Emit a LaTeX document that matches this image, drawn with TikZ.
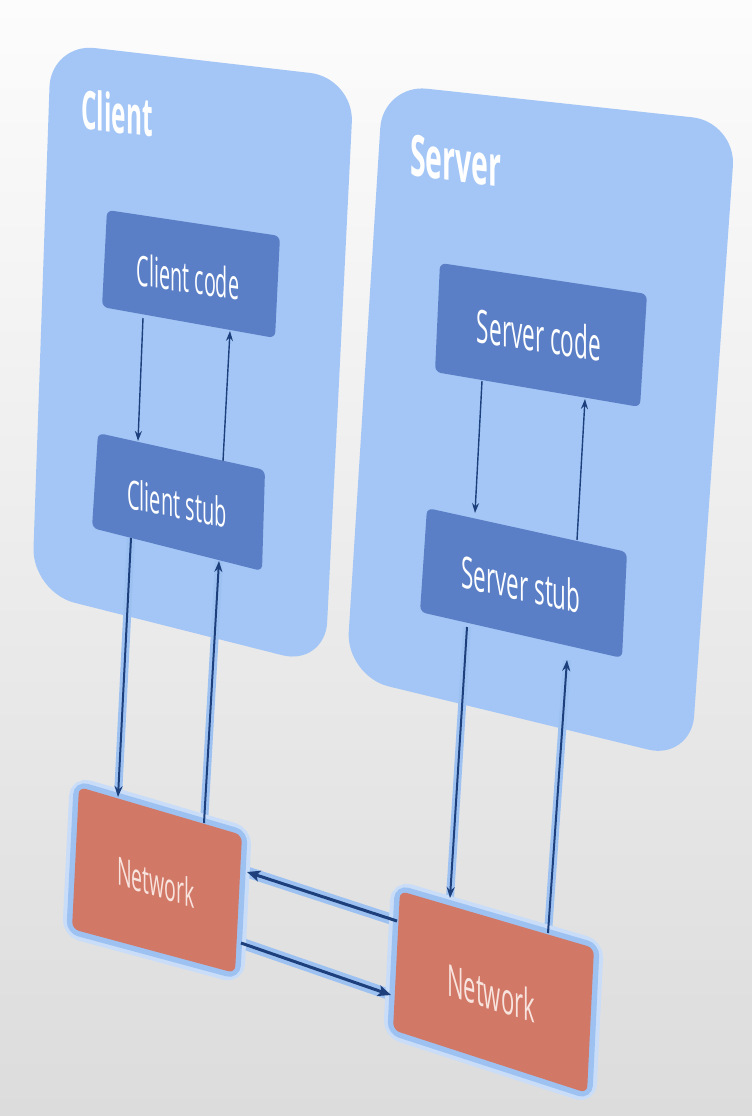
\documentclass[tikz,border=0pt]{standalone}
\usepackage{fontspec}
\setmainfont{Open Sans}
\usetikzlibrary{arrows.meta}
\definecolor{bgtop}{HTML}{FCFCFC}
\definecolor{bgbot}{HTML}{DCDCDC}
\definecolor{pane}{HTML}{A3C6F6}
\definecolor{innerblue}{HTML}{5B7FC6}
\definecolor{netred}{HTML}{D27866}
\definecolor{glow}{HTML}{9DC2F2}
\definecolor{navy}{HTML}{1D3F7C}
\definecolor{nettext}{HTML}{F8E4DE}
\begin{document}
\begin{tikzpicture}[x=1pt,y=-1pt,
  panebox/.style={fill=pane, rounded corners=44pt},
  innerbox/.style={fill=innerblue, rounded corners=6pt},
  netbox/.style={fill=netred, rounded corners=7pt},
  netglow/.style={draw=glow, line width=11pt, rounded corners=8pt},
  netglowsoft/.style={draw=glow!55, line width=19pt, rounded corners=10pt},
  lbl/.style={text=white, inner sep=0pt},
  thinarrow/.style={draw=navy, line width=1.4pt, -{Stealth[length=10pt,width=7pt]}},
  midarrow/.style={draw=navy, line width=2pt, -{Stealth[length=11pt,width=8pt]}},
  thickarrow/.style={draw=navy, line width=3pt, -{Stealth[length=13pt,width=11pt,inset=3pt]}},
  arrowglow/.style={draw=glow, line cap=butt},
]
\useasboundingbox (0,0) rectangle (752,1116);
\shade[top color=bgtop, bottom color=bgbot] (0,0) rectangle (752,1116);

% ---------- corner coordinates ----------
\coordinate (cpTL) at (51,43);   \coordinate (cpTR) at (354,78);
\coordinate (cpBR) at (325,666); \coordinate (cpBL) at (32,592);
\coordinate (spTL) at (383,84);  \coordinate (spTR) at (736,122);
\coordinate (spBR) at (691,760); \coordinate (spBL) at (346,676);

\coordinate (ccTL) at (107,210); \coordinate (ccTR) at (280,236);
\coordinate (ccBR) at (275,338); \coordinate (ccBL) at (102,307);
\coordinate (csTL) at (98,433);  \coordinate (csTR) at (265,470);
\coordinate (csBR) at (262,571); \coordinate (csBL) at (92,528);
\coordinate (scTL) at (440,263); \coordinate (scTR) at (647,294);
\coordinate (scBR) at (640,407); \coordinate (scBL) at (435,372);
\coordinate (ssTL) at (427,508); \coordinate (ssTR) at (627,552);
\coordinate (ssBR) at (622,658); \coordinate (ssBL) at (420,612);
\coordinate (nlTL) at (79,787);  \coordinate (nlTR) at (242,835);
\coordinate (nlBR) at (235,973); \coordinate (nlBL) at (72,929);
\coordinate (nrTL) at (400,891); \coordinate (nrTR) at (594,948);
\coordinate (nrBR) at (587,1093);\coordinate (nrBL) at (393,1030);

% ---------- containers ----------
\path[panebox] (cpTL) -- (cpTR) -- (cpBR) -- (cpBL) -- cycle;
\path[panebox] (spTL) -- (spTR) -- (spBR) -- (spBL) -- cycle;

% ---------- arrow end points ----------
\coordinate (a1s) at (143,318); \coordinate (a1e) at (138,441);
\coordinate (a2s) at (223,461); \coordinate (a2e) at (230,331);
\coordinate (b1s) at (482,381); \coordinate (b1e) at (475,513);
\coordinate (b2s) at (577,540); \coordinate (b2e) at (585,399);
\coordinate (a3s) at (131,538); \coordinate (a3e) at (118,797);
\coordinate (a4s) at (204,823); \coordinate (a4e) at (219,561);
\coordinate (b3s) at (467,627); \coordinate (b3e) at (450,898);
\coordinate (b4s) at (548,933); \coordinate (b4e) at (567,660);
\coordinate (h1s) at (397,921); \coordinate (h1e) at (247,872);
\coordinate (h2s) at (241,943); \coordinate (h2e) at (391,995);

% glows under the outer arrows
\path[arrowglow, line width=8pt] (a3s) -- (a3e);
\path[arrowglow, line width=8pt] (a4s) -- (a4e);
\path[arrowglow, line width=8pt] (b3s) -- (b3e);
\path[arrowglow, line width=8pt] (b4s) -- (b4e);
\path[arrowglow, line width=11pt] (h1s) -- (h1e);
\path[arrowglow, line width=11pt] (h2s) -- (h2e);

% ---------- inner boxes ----------
\path[innerbox] (ccTL) -- (ccTR) -- (ccBR) -- (ccBL) -- cycle;
\path[innerbox] (csTL) -- (csTR) -- (csBR) -- (csBL) -- cycle;
\path[innerbox] (scTL) -- (scTR) -- (scBR) -- (scBL) -- cycle;
\path[innerbox] (ssTL) -- (ssTR) -- (ssBR) -- (ssBL) -- cycle;

% ---------- network boxes ----------
\path[netglowsoft] (nlTL) -- (nlTR) -- (nlBR) -- (nlBL) -- cycle;
\path[netglowsoft] (nrTL) -- (nrTR) -- (nrBR) -- (nrBL) -- cycle;
\path[netglow] (nlTL) -- (nlTR) -- (nlBR) -- (nlBL) -- cycle;
\path[netglow] (nrTL) -- (nrTR) -- (nrBR) -- (nrBL) -- cycle;
\path[netbox] (nlTL) -- (nlTR) -- (nlBR) -- (nlBL) -- cycle;
\path[netbox] (nrTL) -- (nrTR) -- (nrBR) -- (nrBL) -- cycle;

% ---------- arrows ----------
\draw[thinarrow] (a1s) -- (a1e);
\draw[thinarrow] (a2s) -- (a2e);
\draw[thinarrow] (b1s) -- (b1e);
\draw[thinarrow] (b2s) -- (b2e);
\draw[midarrow] (a3s) -- (a3e);
\draw[midarrow] (a4s) -- (a4e);
\draw[midarrow] (b3s) -- (b3e);
\draw[midarrow] (b4s) -- (b4e);
\draw[thickarrow] (h1s) -- (h1e);
\draw[thickarrow] (h2s) -- (h2e);

% ---------- labels ----------
\node[lbl, font=\bfseries\fontsize{53}{53}\selectfont, yslant=-0.12, xscale=0.46] (tclient) at (117,113) {Client};
\node[lbl, font=\bfseries\fontsize{57}{57}\selectfont, yslant=-0.125, xscale=0.5] (tserver) at (456,161) {Server};
\node[lbl, font=\fontsize{42}{42}\selectfont, yslant=-0.15, xscale=0.47] (tcc) at (188,277) {Client code};
\node[lbl, font=\fontsize{40}{40}\selectfont, yslant=-0.2, xscale=0.5] (tcs) at (177,503) {Client stub};
\node[lbl, font=\fontsize{46}{46}\selectfont, yslant=-0.155, xscale=0.49] (tsc) at (539,335) {Server code};
\node[lbl, font=\fontsize{44}{44}\selectfont, yslant=-0.22, xscale=0.51] (tss) at (521,584) {Server stub};
\node[lbl, text=nettext, font=\fontsize{39}{39}\selectfont, yslant=-0.3, xscale=0.5] (tnl) at (156,882) {Network};
\node[lbl, text=nettext, font=\fontsize{44}{44}\selectfont, yslant=-0.32, xscale=0.5] (tnr) at (491,993) {Network};
\end{tikzpicture}
\end{document}
